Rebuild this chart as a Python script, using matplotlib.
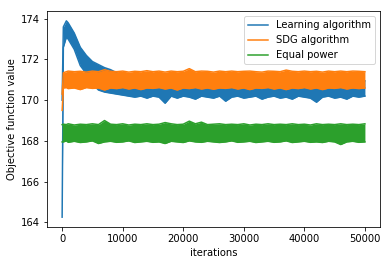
import matplotlib
matplotlib.use("Agg")
import matplotlib.pyplot as plt

# iteration checkpoints at which the band of each noisy series was read
iters = [0, 200, 700] + [1000 * k for k in range(1, 51)]

# Learning algorithm: lower / upper edge of the noisy band
learn_lo = [164.25, 172.6, 173.1, 173.0, 172.5, 171.7, 171.3, 170.8, 170.5, 170.4,
            170.35, 170.3, 170.25, 170.2, 170.15, 170.2, 170.1, 170.2, 170.15, 169.85,
            170.2, 170.1, 170.2, 170.15, 170.05, 170.2, 170.15, 170.1, 170.2, 169.95,
            170.15, 170.2, 170.1, 170.15, 170.2, 170.05, 170.15, 170.2, 170.1, 170.15,
            170.05, 170.2, 170.15, 170.1, 169.9, 170.15, 170.2, 170.1, 170.15, 170.05,
            170.2, 170.15, 170.2]
learn_hi = [170.0, 173.6, 173.9, 173.8, 173.3, 172.6, 172.2, 171.9, 171.75, 171.6,
            171.5, 171.35, 171.2, 171.05, 170.95, 170.95, 170.95, 170.95, 170.95, 170.95,
            170.95, 170.95, 170.95, 170.95, 170.95, 170.95, 170.95, 170.95, 170.95, 170.95,
            170.95, 170.95, 170.95, 170.95, 170.95, 170.95, 170.95, 170.95, 170.95, 170.95,
            170.95, 170.95, 170.95, 170.95, 170.95, 170.95, 170.95, 170.95, 170.95, 170.95,
            170.95, 170.95, 170.95]

# SDG algorithm
sdg_lo = [169.5, 170.6, 170.62, 170.57, 170.6, 170.52, 170.62, 170.58, 170.6, 170.5,
          170.6, 170.57, 170.62, 170.55, 170.6, 170.52, 170.6, 170.58, 170.62, 170.55,
          170.6, 170.5, 170.6, 170.57, 170.62, 170.55, 170.6, 170.54, 170.6, 170.58,
          170.62, 170.55, 170.6, 170.52, 170.6, 170.58, 170.62, 170.55, 170.6, 170.52,
          170.6, 170.57, 170.62, 170.55, 170.6, 170.52, 170.6, 170.58, 170.62, 170.55,
          170.6, 170.57, 170.6]
sdg_hi = [170.3, 171.35, 171.4, 171.43, 171.4, 171.42, 171.38, 171.43, 171.4, 171.5,
          171.42, 171.4, 171.43, 171.38, 171.42, 171.4, 171.45, 171.4, 171.43, 171.38,
          171.43, 171.4, 171.42, 171.55, 171.4, 171.43, 171.42, 171.38, 171.43, 171.4,
          171.43, 171.4, 171.42, 171.43, 171.4, 171.38, 171.43, 171.42, 171.4, 171.48,
          171.42, 171.4, 171.43, 171.4, 171.42, 171.38, 171.43, 171.4, 171.43, 171.4,
          171.43, 171.42, 171.4]

# Equal power
eq_lo = [167.95, 167.95, 168.0, 167.93, 167.98, 167.92, 167.95, 168.0, 167.87, 167.95,
         167.98, 167.93, 167.95, 168.0, 167.92, 167.95, 167.98, 167.93, 167.95, 167.87,
         167.98, 167.95, 167.92, 168.0, 167.95, 167.93, 167.98, 167.95, 167.92, 167.95,
         168.0, 167.93, 167.95, 167.98, 167.92, 167.95, 167.98, 167.93, 167.95, 168.0,
         167.92, 167.95, 167.98, 167.93, 167.95, 167.92, 167.98, 167.95, 167.82, 167.95,
         167.98, 167.93, 167.95]
eq_hi = [168.8, 168.82, 168.8, 168.84, 168.78, 168.82, 168.8, 168.84, 168.8, 169.0,
         168.82, 168.8, 168.84, 168.78, 168.82, 168.8, 168.84, 168.8, 168.82, 168.9,
         168.84, 168.8, 168.82, 168.97, 168.84, 168.92, 168.8, 168.82, 168.84, 168.8,
         168.82, 168.8, 168.84, 168.78, 168.82, 168.8, 168.84, 168.8, 168.82, 168.8,
         168.84, 168.8, 168.82, 168.78, 168.84, 168.8, 168.82, 168.8, 168.84, 168.8,
         168.82, 168.8, 168.84]

series = [
    ("Learning algorithm", learn_lo, learn_hi, "tab:blue"),
    ("SDG algorithm", sdg_lo, sdg_hi, "tab:orange"),
    ("Equal power", eq_lo, eq_hi, "tab:green"),
]

plt.rcParams["font.family"] = ["DejaVu Sans"]
plt.rcParams["font.size"] = 10

fig = plt.figure(figsize=(390 / 72, 265 / 72), dpi=72)
ax = fig.add_axes([0.1205, 0.1434, 0.854, 0.815])

for i, (label, lo, hi, color) in enumerate(series):
    z = 2 + i
    ax.fill_between(iters, lo, hi, color=color, linewidth=0, zorder=z)
    ax.plot(iters, hi, color=color, linewidth=1.5, label=label, zorder=z)
    ax.plot(iters, lo, color=color, linewidth=1.5, zorder=z)

ax.set_yticks([164, 166, 168, 170, 172, 174])
ax.set_xlabel("iterations")
ax.set_ylabel("Objective function value")
ax.legend(loc="upper right")

fig.savefig("out.png", dpi=72)
